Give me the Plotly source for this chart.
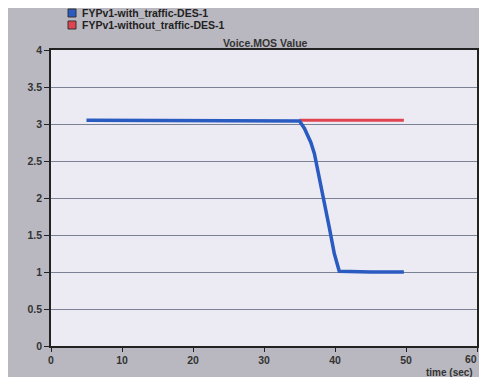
import plotly.graph_objects as go

# Data
with_x = [5, 10, 15, 20, 25, 30, 34.5, 35.0, 35.7, 36.6, 37.1, 37.8, 38.5, 39.2, 39.9, 40.6, 45, 49.7]
with_y = [3.05, 3.05, 3.05, 3.05, 3.05, 3.05, 3.05, 3.04, 2.94, 2.75, 2.6, 2.28, 1.97, 1.6, 1.25, 1.01, 1.0, 1.0]
without_x = [35.0, 40, 45, 49.7]
without_y = [3.05, 3.05, 3.05, 3.05]
y_ticks = [0, 0.5, 1, 1.5, 2, 2.5, 3, 3.5, 4]
y_labels = ["0", "0.5", "1", "1.5", "2", "2.5", "3", "3.5", "4"]
x_ticks = [0, 10, 20, 30, 40, 50, 60]
names = ["FYPv1-with_traffic-DES-1", "FYPv1-without_traffic-DES-1"]
colors = ["#2a5bc0", "#e04450"]

OFF = 8  # page body margin
W, H = 487 - 2 * OFF, 385 - 2 * OFF
L, T = 51 - OFF, 50 - OFF
R = 2
B = H - (346 - OFF)
PW, PH = W - L - R, H - T - B

def px(x):
    return (x - OFF - L) / PW

def py(y):
    return (H + OFF - B - y) / PH

fig = go.Figure()
fig.add_trace(go.Scatter(x=without_x, y=without_y, mode="lines",
                         line=dict(color=colors[1], width=3), showlegend=False))
fig.add_trace(go.Scatter(x=with_x, y=with_y, mode="lines",
                         line=dict(color=colors[0], width=3.5), showlegend=False))

fam = "Liberation Sans, Arial, sans-serif"
fig.update_layout(
    width=W, height=H,
    margin=dict(l=L, r=R, t=T, b=B, autoexpand=False),
    paper_bgcolor="#b9b8c0",
    plot_bgcolor="#ecebf4",
    font=dict(family=fam, size=10, color="#333"),
    showlegend=False,
)

# manual legend
for i, (n, c) in enumerate(zip(names, colors)):
    y0 = 9 + i * 12
    fig.add_shape(type="rect", xref="paper", yref="paper",
                  x0=px(68), x1=px(76), y0=py(y0 + 8), y1=py(y0),
                  fillcolor=c, line=dict(color="#333", width=1))
    fig.add_annotation(text=f"<b>{n}</b>", xref="paper", yref="paper",
                       x=px(80), y=py(y0 + 4), xanchor="left", yanchor="middle",
                       showarrow=False, font=dict(family=fam, size=10.5, color="#222"))

fig.add_annotation(text="<b>Voice.MOS Value</b>", xref="paper", yref="paper",
                   x=px(265), y=py(43), xanchor="center", yanchor="middle",
                   showarrow=False, font=dict(family=fam, size=10.5, color="#333"))

tick_fnt = dict(family=fam, size=10.5, color="#333")
x_text = [f"<b>{v}</b>" for v in x_ticks]
x_text[-1] = ""  # last label drawn as annotation so it stays inside the page
fig.update_xaxes(range=[0, 60], tickvals=x_ticks, ticktext=x_text,
                 showgrid=False, zeroline=False, showline=True, linecolor="#222", linewidth=1.5,
                 mirror=True, ticks="outside", ticklen=4, tickcolor="#222",
                 tickfont=tick_fnt)
fig.update_yaxes(range=[0, 4], tickvals=y_ticks, ticktext=[f"<b>{v}</b>" for v in y_labels],
                 showgrid=True, gridcolor="#7b8194", gridwidth=1, zeroline=False,
                 showline=True, linecolor="#222", linewidth=1.5, mirror=True,
                 ticks="outside", ticklen=5, tickcolor="#222",
                 tickfont=tick_fnt)
fig.add_annotation(text=f"<b>{x_ticks[-1]}</b>", xref="paper", yref="paper", x=1, y=0,
                   xanchor="right", yanchor="top", xshift=2, yshift=-5, showarrow=False,
                   font=tick_fnt)
fig.add_annotation(text="<b>time (sec)</b>", xref="paper", yref="paper", x=1, y=py(372),
                   xanchor="right", yanchor="middle", showarrow=False, xshift=-2,
                   font=dict(family=fam, size=10, color="#333"))
fig.write_html("out.html")
